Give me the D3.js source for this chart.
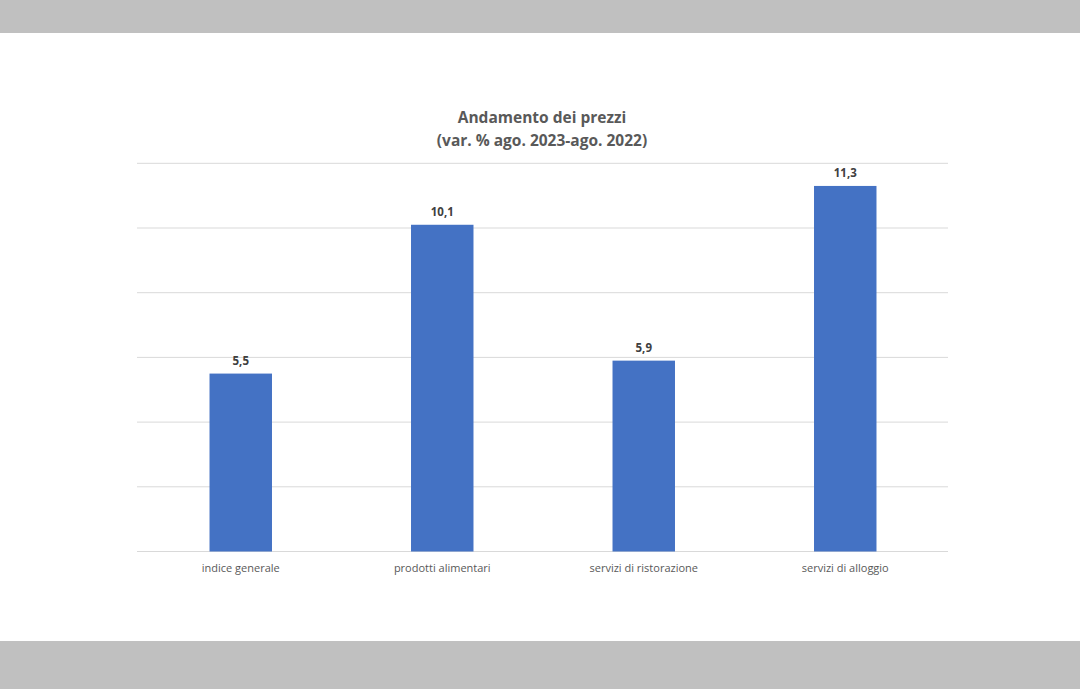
<!DOCTYPE html>
<html>
<head>
<meta charset="utf-8">
<script src="https://cdn.jsdelivr.net/npm/d3@7"></script>
<style>
  html, body { margin: 0; padding: 0; background: #fff; }
  svg { display: block; }
</style>
</head>
<body>
<svg id="canvas" width="1080" height="689"></svg>
<script>
(function() {
    // chart data
    var categories = ["indice generale", "prodotti alimentari", "servizi di ristorazione", "servizi di alloggio"]
    var values = [5.5, 10.1, 5.9, 11.3]
    var yTicks = [0, 2, 4, 6, 8, 10, 12]
    var titleLines = ["Andamento dei prezzi", "(var. % ago. 2023-ago. 2022)"]

    var width = 1080, height = 689
    var fontFam = "'Open Sans', 'Liberation Sans', sans-serif"
    var svg = d3.select("#canvas")

    // grey bands top and bottom (photo frame)
    svg.append("rect").attr("x", 0).attr("y", 0).attr("width", width).attr("height", 33).attr("fill", "#c0c0c0")
    svg.append("rect").attr("x", 0).attr("y", 641).attr("width", width).attr("height", 48).attr("fill", "#c0c0c0")

    var left = 140, right = 946, top = 163.3, bottom = 551.5

    var x = d3.scaleBand().domain(categories).range([left, right]).paddingInner(0.69).paddingOuter(0.345)
    var y = d3.scaleLinear().domain([0, 12]).range([bottom, top])

    // gridlines
    svg.append("g")
      .selectAll("line")
      .data(yTicks)
      .join("line")
        .attr("x1", left - 3).attr("x2", right + 2)
        .attr("y1", d => y(d)).attr("y2", d => y(d))
        .attr("stroke", "#d9d9d9")
        .attr("stroke-width", 1)

    // bars
    svg.append("g")
      .selectAll("rect")
      .data(values)
      .join("rect")
        .attr("x", (d, i) => x(categories[i]))
        .attr("y", d => y(d))
        .attr("width", x.bandwidth())
        .attr("height", d => y(0) - y(d))
        .attr("fill", "#4472c4")

    // data labels
    svg.append("g")
      .selectAll("text")
      .data(values)
      .join("text")
        .attr("x", (d, i) => x(categories[i]) + x.bandwidth() / 2)
        .attr("y", d => y(d) - 9)
        .attr("text-anchor", "middle")
        .attr("font-family", fontFam)
        .attr("font-size", 11.5)
        .attr("font-weight", "bold")
        .attr("fill", "#404040")
        .text(d => d3.format(".1f")(d).replace(".", ","))

    // category axis labels
    svg.append("g")
      .selectAll("text")
      .data(categories)
      .join("text")
        .attr("x", d => x(d) + x.bandwidth() / 2)
        .attr("y", 572)
        .attr("text-anchor", "middle")
        .attr("font-family", fontFam)
        .attr("font-size", 11)
        .attr("fill", "#595959")
        .text(d => d)

    // title
    svg.append("g")
      .selectAll("text")
      .data(titleLines)
      .join("text")
        .attr("x", 542)
        .attr("y", (d, i) => 123 + i * 23)
        .attr("text-anchor", "middle")
        .attr("font-family", fontFam)
        .attr("font-size", 15.5)
        .attr("font-weight", "bold")
        .attr("fill", "#595959")
        .text(d => d)
})();
</script>
</body>
</html>
